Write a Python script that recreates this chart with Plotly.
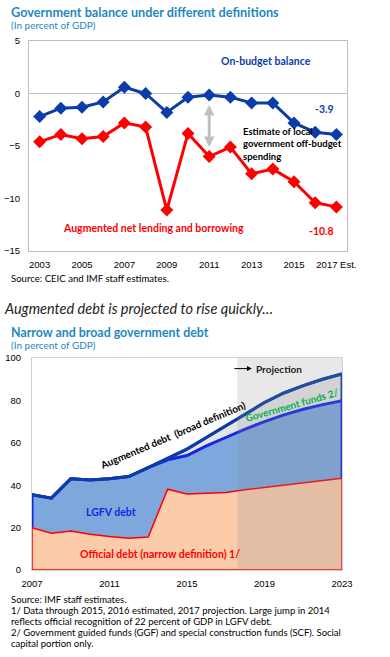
import plotly.graph_objects as go

# ---------------- data ----------------
# Chart 1: Government balance (percent of GDP)
bal_years = list(range(2003, 2018))
on_budget_balance = [-2.2, -1.4, -1.3, -0.8, 0.6, 0.0, -1.8, -0.35, -0.15, -0.35, -0.9, -0.9, -2.8, -3.7, -3.9]
augmented_net_lending = [-4.6, -3.9, -4.3, -4.1, -2.8, -3.2, -11.1, -3.8, -6.0, -5.1, -7.65, -7.2, -8.4, -10.4, -10.8]
bal_tick_years = [2003, 2005, 2007, 2009, 2011, 2013, 2015, 2017]
bal_tick_labels = ["2003", "2005", "2007", "2009", "2011", "2013", "2015", "2017 Est."]
bal_y_ticks = [5, 0, -5, -10, -15]

# Chart 2: Narrow and broad government debt (percent of GDP)
debt_years = list(range(2007, 2024))
official_debt = [20.0, 17.3, 18.4, 16.9, 15.8, 15.0, 15.6, 38.1, 35.9, 36.2, 36.6, 37.8, 38.9, 40.0, 41.1, 42.2, 43.3]
lgfv_debt = [15.5, 16.6, 24.6, 25.6, 27.2, 29.1, 32.7, 13.9, 18.1, 22.3, 25.9, 28.7, 31.1, 33.2, 34.7, 35.8, 36.5]
government_funds = [0, 0, 0, 0, 0, 0, 0, 0.5, 3.0, 4.0, 5.5, 7.0, 9.0, 10.3, 11.2, 12.0, 12.7]
debt_tick_years = [2007, 2011, 2015, 2019, 2023]
debt_y_ticks = [0, 20, 40, 60, 80, 100]
projection_start = 2017.6

# stacked levels built from the components
lgfv_top = [o + l for o, l in zip(official_debt, lgfv_debt)]
augmented_debt = [t + g for t, g in zip(lgfv_top, government_funds)]

W, H = 390, 657
def px(x):
    return x / W
def py(y):
    return 1 - y / H

TXT = "Lato"
TICK = "Liberation Sans"
TEAL = "#1E88C0"
NAVY = "#0B3CA8"
RED = "#FF0000"

fig = go.Figure()

# ---------- chart 1 ----------
fig.add_trace(go.Scatter(x=bal_years, y=augmented_net_lending, mode="lines+markers",
                         line=dict(color=RED, width=3),
                         marker=dict(symbol="diamond", size=10, color=RED),
                         xaxis="x", yaxis="y"))
fig.add_trace(go.Scatter(x=bal_years, y=on_budget_balance, mode="lines+markers",
                         line=dict(color=NAVY, width=3),
                         marker=dict(symbol="diamond", size=10, color=NAVY),
                         xaxis="x", yaxis="y"))

# ---------- chart 2 (stacked areas as closed polygons) ----------
def polygon(vals):
    xs = debt_years + [debt_years[-1], debt_years[0], debt_years[0]]
    ys = vals + [0, 0, vals[0]]
    return xs, ys

xs, ys = polygon(augmented_debt)
fig.add_trace(go.Scatter(x=xs, y=ys, mode="lines", fill="toself", fillcolor="#E5E5E5",
                         line=dict(color=NAVY, width=3), xaxis="x2", yaxis="y2"))
xs, ys = polygon(lgfv_top)
fig.add_trace(go.Scatter(x=xs, y=ys, mode="lines", fill="toself", fillcolor="#7EA7DC",
                         line=dict(color="#1426E6", width=3), xaxis="x2", yaxis="y2"))
xs, ys = polygon(official_debt)
fig.add_trace(go.Scatter(x=xs, y=ys, mode="lines", fill="toself", fillcolor="#FBCBAA",
                         line=dict(color=RED, width=1.5), xaxis="x2", yaxis="y2"))
fig.add_trace(go.Scatter(x=debt_years, y=augmented_debt, mode="lines",
                         line=dict(color=NAVY, width=3), xaxis="x2", yaxis="y2"))

fig.add_shape(type="rect", xref="x2", yref="y2", x0=projection_start, x1=debt_years[-1],
              y0=debt_y_ticks[0], y1=debt_y_ticks[-1], fillcolor="rgba(140,140,140,0.2)",
              line=dict(width=0), layer="above")

axis_common = dict(showgrid=False, showline=True, mirror=True, ticks="", automargin=False,
                   fixedrange=True, tickfont=dict(family=TICK, size=9.5, color="#000"))

fig.update_layout(
    width=W, height=H, margin=dict(l=0, r=0, t=0, b=0, pad=0, autoexpand=False),
    paper_bgcolor="white", plot_bgcolor="white", showlegend=False,
    font=dict(family=TXT, color="#000"),
    xaxis=dict(domain=[px(29), px(347)], range=[2002.5, 2017.5], anchor="y",
               tickvals=bal_tick_years, ticktext=bal_tick_labels, zeroline=False,
               linecolor="#BFBFBF", ticklabelstandoff=5, **axis_common),
    yaxis=dict(domain=[py(251), py(41)], range=[-15, 5], anchor="x",
               tickvals=bal_y_ticks, zeroline=True, zerolinecolor="#BFBFBF", zerolinewidth=1,
               linecolor="#BFBFBF", ticklabelstandoff=6, **axis_common),
    xaxis2=dict(domain=[px(32), px(342)], range=[2007, 2023], anchor="y2",
                tickvals=debt_tick_years, zeroline=False, linecolor="#D0D0D0",
                ticklabelstandoff=5, **axis_common),
    yaxis2=dict(domain=[py(570), py(358)], range=[0, 100], anchor="x2",
                tickvals=debt_y_ticks, zeroline=False, linecolor="#D0D0D0",
                ticklabelstandoff=8, **axis_common),
)

ann = []
def ptext(text, x, y, size, color="#000", bold=False, italic=False, xanchor="left"):
    t = text
    if bold:
        t = "<b>" + t + "</b>"
    if italic:
        t = "<i>" + t + "</i>"
    ann.append(dict(text=t, x=px(x), y=py(y), xref="paper", yref="paper",
                    xanchor=xanchor, yanchor="middle", showarrow=False,
                    font=dict(family=TXT, size=size, color=color)))

# titles / notes
ptext("Government balance under different definitions", 9, 12, 12.7, TEAL, bold=True)
ptext("(In percent of GDP)", 9, 25, 10, TEAL)
ptext("Source: CEIC and IMF staff estimates.", 9, 278, 9.6)
ptext("Augmented debt is projected to rise quickly\u2026", 2, 308, 14.5, "#222", italic=True)
ptext("Narrow and broad government debt", 9, 332, 12.4, TEAL, bold=True)
ptext("(In percent of GDP)", 9, 345, 10, TEAL)
notes = [
    "Source: IMF staff estimates.",
    "1/ Data through 2015, 2016 estimated, 2017 projection. Large jump in 2014",
    "reflects official recognition of 22 percent of GDP in LGFV debt.",
    "2/ Government guided funds (GGF) and special construction funds (SCF). Social",
    "capital portion only.",
]
for i, line in enumerate(notes):
    ptext(line, 9, 599 + i * 11.2, 9.5)

def dtext(text, x, y, color, xr, yr, angle=0, size=10, xanchor="center"):
    ann.append(dict(text="<b>" + text + "</b>", x=x, y=y, xref=xr, yref=yr, showarrow=False,
                    xanchor=xanchor, yanchor="middle", textangle=angle,
                    font=dict(family=TXT, size=size, color=color)))

# chart 1 labels
dtext("On-budget balance", 2013.68, 3.1, NAVY, "x", "y", size=10.5)
dtext("-3.9", 2016.45, -1.5, NAVY, "x", "y", size=10.5)
dtext("Augmented net lending and borrowing", 2008.35, -12.85, RED, "x", "y", size=10.5)
dtext("-10.8", 2016.3, -13.05, RED, "x", "y", size=10.5)
ann.append(dict(text="<b>Estimate of local<br>government off-budget<br>spending</b>",
                x=2012.5, y=-4.8, xref="x", yref="y", xanchor="left", yanchor="middle",
                align="left", showarrow=False,
                font=dict(family=TXT, size=9.5, color="#000")))
ann.append(dict(text="", x=2011, y=-5.1, ax=2011, ay=-0.95, xref="x", yref="y",
                axref="x", ayref="y", showarrow=True, arrowhead=2, arrowside="end+start",
                arrowwidth=3, arrowsize=0.7, arrowcolor="#BFBFBF"))

# chart 2 labels
dtext("Augmented debt\u00a0 (broad definition)", 2014.25, 63.8, "#000", "x2", "y2", angle=-23)
dtext("Government funds 2/", 2020.4, 77.6, "#00B050", "x2", "y2", angle=-16)
dtext("LGFV debt", 2011.1, 27.4, "#1426E6", "x2", "y2", size=10.5)
dtext("Official debt (narrow definition) 1/", 2013.6, 7.6, RED, "x2", "y2", size=10.5)
ann.append(dict(text="", x=2018.35, y=95, ax=2017.37, ay=95, xref="x2", yref="y2",
                axref="x2", ayref="y2", showarrow=True, arrowhead=2, arrowwidth=1,
                arrowsize=1, arrowcolor="#000"))
dtext("Projection", 2018.45, 95, "#222", "x2", "y2", xanchor="left")

fig.update_layout(annotations=ann)
fig.write_html("out.html", config={"displayModeBar": False},
               post_script="document.body.style.margin='0';document.body.style.overflow='hidden';")
